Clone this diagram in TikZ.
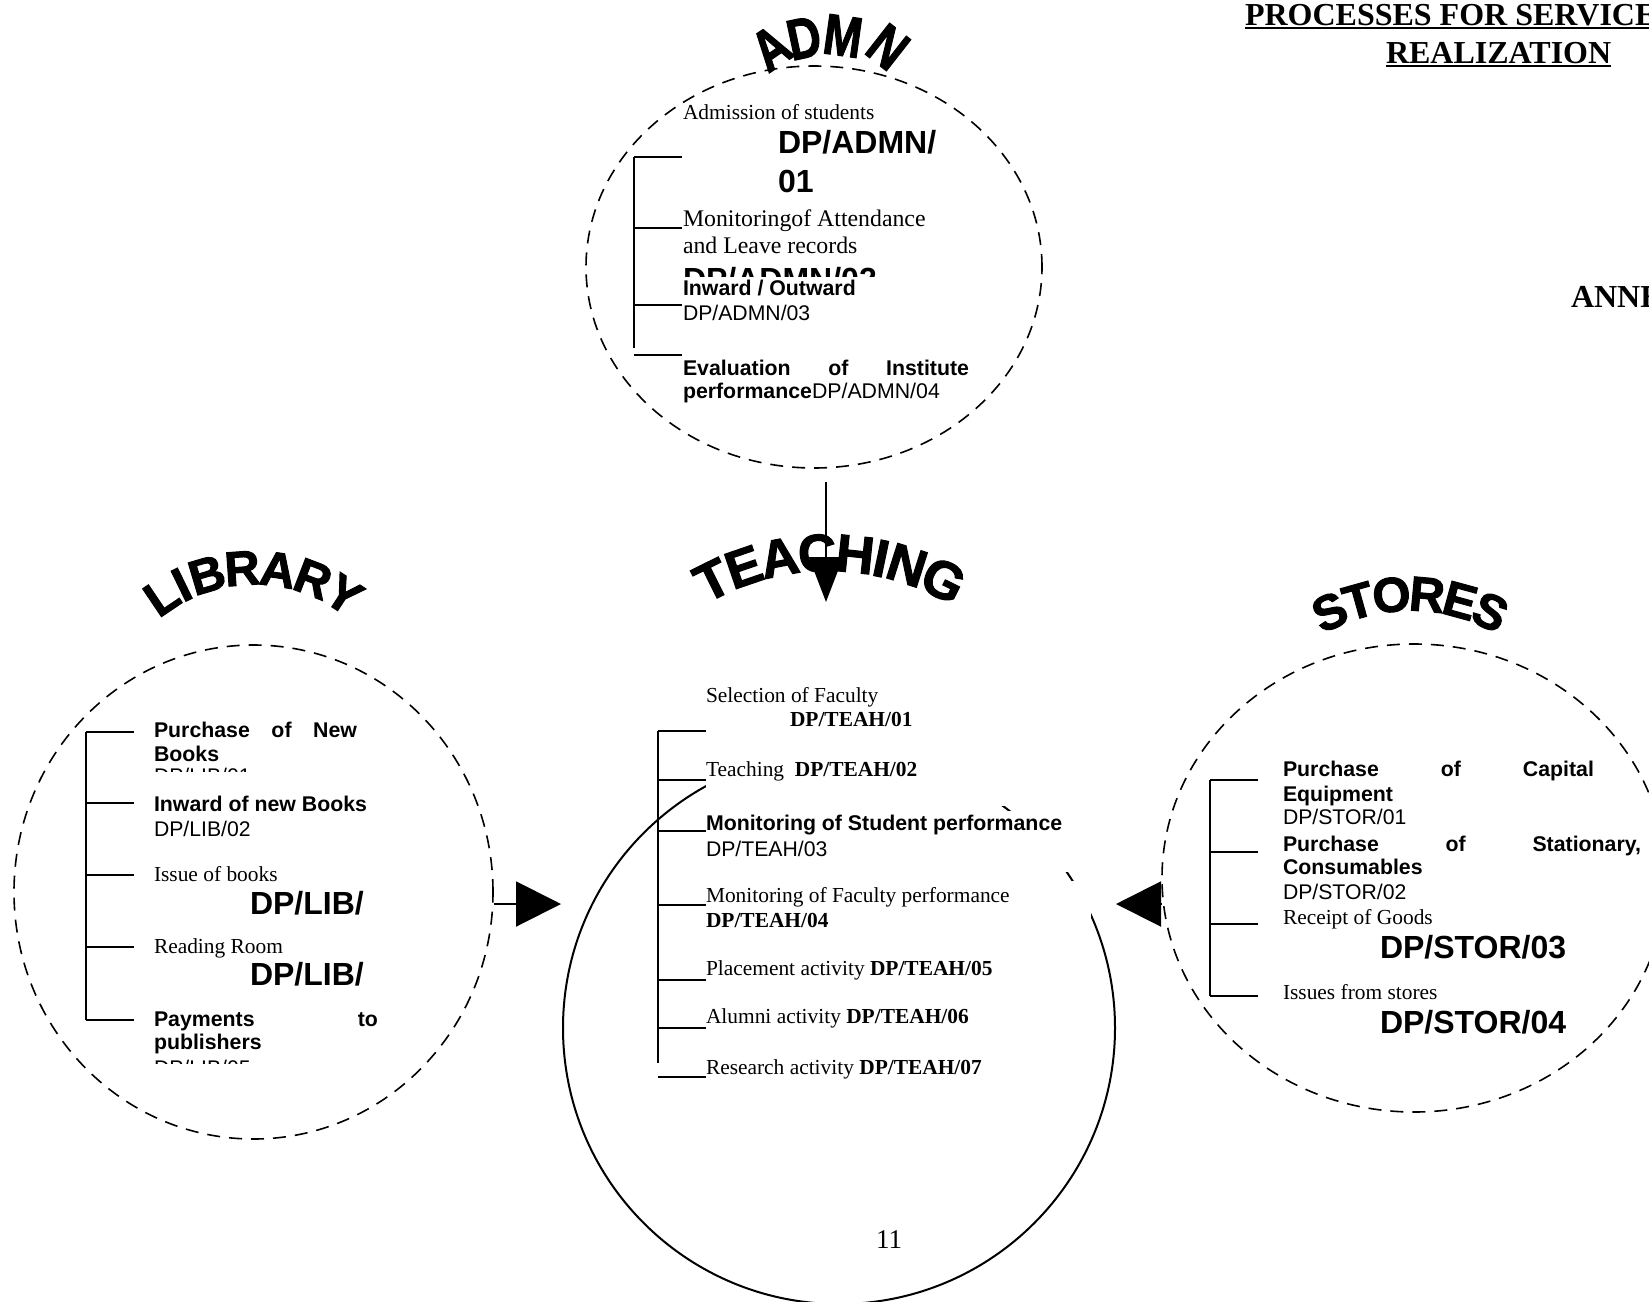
\documentclass[tikz,border=0pt]{standalone}
\usepackage{fontspec}
\setmainfont{Liberation Serif}
\setsansfont{Liberation Sans}
\newfontfamily\wafont[BoldFeatures={FakeBold=2}]{Liberation Sans}
\usepackage{graphicx}
\usetikzlibrary{shapes.geometric,arrows.meta}
\tikzset{
  txt/.style={anchor=base west, inner sep=0pt, outer sep=0pt},
  tr/.style={txt, font=\fontsize{21.4}{24}\selectfont\rmfamily},
  trl/.style={txt, font=\fontsize{23.8}{26}\selectfont\rmfamily},
  trb/.style={txt, font=\fontsize{21.4}{24}\selectfont\rmfamily\bfseries},
  sr/.style={txt, font=\fontsize{21.2}{24}\selectfont\sffamily},
  sb/.style={txt, font=\fontsize{21.3}{24}\selectfont\sffamily\bfseries},
  sbig/.style={txt, font=\fontsize{32}{36}\selectfont\sffamily\bfseries},
  ttl/.style={txt, font=\fontsize{32}{36}\selectfont\rmfamily\bfseries},
  wa/.style={inner sep=0pt, outer sep=0pt, font=\fontsize{53}{53}\selectfont\wafont\bfseries},
  wb/.style={inner sep=0pt, outer sep=0pt, font=\fontsize{49}{49}\selectfont\wafont\bfseries},
  wc/.style={inner sep=0pt, outer sep=0pt, font=\fontsize{46}{46}\selectfont\wafont\bfseries},
  ring/.style={draw, ellipse, inner sep=0pt, line width=1.6pt, dash pattern=on 13pt off 9pt},
  br/.style={line width=2pt},
  conn/.style={line width=2pt},
}
\begin{document}
\begin{tikzpicture}[x=1pt,y=-1pt]
\useasboundingbox (0,0) rectangle (1649,1301);
\clip (0,0) rectangle (1649,1301);
\fill[white] (0,0) rectangle (1649,1301);

% ---------- title ----------
\node[ttl] (t1) at (1245,25) {PROCESSES FOR SERVICE};
\node[ttl] (t2) at (1386,63) {REALIZATION};
\node[ttl] (t3) at (1571,307) {ANNEXURE};
\draw[line width=2pt] ([yshift=-3pt]t1.base west) -- ([yshift=-3pt]t1.base east);
\draw[line width=2pt] ([yshift=-3pt]t2.base west) -- ([yshift=-3pt]t2.base east);

% ---------- rings ----------
\node[ring, minimum width=456pt, minimum height=402pt] (admn) at (814,267) {};
\node[ring, minimum width=479pt, minimum height=494pt] (lib) at (253.5,892) {};
\node[ring, minimum width=504pt, minimum height=468pt] (stores) at (1414,878) {};
\node[draw, circle, line width=2pt, minimum size=552pt, inner sep=0pt] (teach) at (839,1028) {};

% text boxes of TEACHING hide parts of its circle
\fill[white] (706,640) rectangle (1091,806);
\fill[white] (706,811) rectangle (1091,872);
\fill[white] (706,881) rectangle (1091,1110);

% ---------- ADMN ----------
\draw[br] (634,157) -- (634,348);
\foreach \y in {157,228,305,355} \draw[br] (634,\y) -- (682,\y);
\node[tr] (a1) at (683,119) {Admission of students};
\node[sbig] (a2) at (778,153) {DP/ADMN/};
\node[sbig] (a3) at (778,192) {01};
\node[trl] (a4) at (683,226) {Monitoringof Attendance};
\node[trl] (a5) at (683,253) {and Leave records};
\begin{scope}
  \clip (683,262) rectangle (900,276);
  \node[sbig] (a6) at (683,290) {DP/ADMN/02};
\end{scope}
\node[sb] (a7) at (683,295) {Inward / Outward};
\node[sr] (a8) at (683,320) {DP/ADMN/03};
\node[sb] (a9) at (683,375) {\hbox to 286pt{Evaluation\hfill of\hfill Institute}};
\node[sb] (a10) at (683,398) {performance\mdseries DP/ADMN/04};

% ---------- TEACHING ----------
\draw[br] (658,731) -- (658,1063);
\foreach \y in {731,780,831,905,980,1028,1077} \draw[br] (658,\y) -- (706,\y);
\node[tr] (b1) at (706,702) {Selection of Faculty};
\node[trb] (b2) at (790,726) {DP/TEAH/01};
\node[tr] (b3) at (706,776) {Teaching\ \ \textbf{DP/TEAH/02}};
\node[sb] (b4) at (706,830) {Monitoring of Student performance};
\node[sr] (b5) at (706,856) {DP/TEAH/03};
\node[tr] (b6) at (706,902) {Monitoring of Faculty performance};
\node[trb] (b7) at (706,927) {DP/TEAH/04};
\node[tr] (b8) at (706,975) {Placement activity \textbf{DP/TEAH/05}};
\node[tr] (b9) at (706,1023) {Alumni activity \textbf{DP/TEAH/06}};
\node[tr] (b10) at (706,1074) {Research activity \textbf{DP/TEAH/07}};
\node[txt, font=\fontsize{27}{30}\selectfont\rmfamily] (pg) at (876,1248) {11};

% ---------- LIBRARY ----------
\draw[br] (86,732) -- (86,1020);
\foreach \y in {732,803,875,947,1020} \draw[br] (86,\y) -- (134,\y);
\node[sb] (c1) at (154,737) {\hbox to 203pt{Purchase\hfill of\hfill New}};
\node[sb] (c2) at (154,761) {Books};
\begin{scope}
  \clip (150,767) rectangle (300,771);
  \node[sr] (c3) at (154,783) {DP/LIB/01};
\end{scope}
\node[sb] (c4) at (154,811) {Inward of new Books};
\node[sr] (c5) at (154,836) {DP/LIB/02};
\node[tr] (c6) at (154,881) {Issue of books};
\node[sbig] (c7) at (250,914) {DP/LIB/};
\node[tr] (c8) at (154,953) {Reading Room};
\node[sbig] (c9) at (250,985) {DP/LIB/};
\node[sb] (c10) at (154,1026) {\hbox to 224pt{Payments\hfill to}};
\node[sb] (c11) at (154,1049) {publishers};
\begin{scope}
  \clip (150,1059) rectangle (300,1063);
  \node[sr] (c12) at (154,1075) {DP/LIB/05};
\end{scope}

% ---------- STORES ----------
\draw[br] (1210,780) -- (1210,996);
\foreach \y in {780,852,924,996} \draw[br] (1210,\y) -- (1258,\y);
\node[sb] (d1) at (1283,776) {\hbox to 311pt{Purchase\hfill of\hfill Capital}};
\node[sb] (d2) at (1283,801) {Equipment};
\node[sr] (d3) at (1283,824) {DP/STOR/01};
\node[sb] (d4) at (1283,851) {\hbox to 358pt{Purchase\hfill of\hfill Stationary,}};
\node[sb] (d5) at (1283,874) {Consumables};
\node[sr] (d6) at (1283,899) {DP/STOR/02};
\node[tr] (d7) at (1283,924) {Receipt of Goods};
\node[sbig] (d8) at (1380,958) {DP/STOR/03};
\node[tr] (d9) at (1283,999) {Issues from stores};
\node[sbig] (d10) at (1380,1033) {DP/STOR/04};

% ---------- word art titles ----------
\node[wc, rotate=34] (wA1) at (771,48) {\scalebox{1}[1.25]{A}};
\node[wc, rotate=12] (wA2) at (804,38) {\scalebox{1}[1.25]{D}};
\node[wc, rotate=-8] (wA3) at (843,36) {\scalebox{1}[1.25]{M}};
\node[wc, rotate=-38] (wA4) at (888,47) {\scalebox{1}[1.25]{N}};
\foreach \l/\a [count=\i] in {T/-26.4,E/-18.9,A/-10.8,C/-2.4,H/6.0,I/11.8,N/17.7,G/26.4}
  \node[wa, rotate=-\a] (wT\i) at ({828+260*sin(\a)},{813-260*cos(\a)}) {\l};
\foreach \l/\a [count=\i] in {L/-34,I/-26,B/-16.6,R/-4.1,A/8.4,R/21.0,Y/33}
  \node[wb, rotate=-\a] (wL\i) at ({254+165*sin(\a)},{733-165*cos(\a)}) {\l};
\foreach \l/\a [count=\i] in {S/-25,T/-15.7,O/-5.6,R/5.2,E/15.3,S/25}
  \node[wb, rotate=-\a] (wS\i) at ({1410+190*sin(\a)},{784-190*cos(\a)}) {\l};

% ---------- connectors ----------
\coordinate (admnOut) at (826,482);
\coordinate (teachTop) at (826,602);
\coordinate (libTip) at (561,904);
\coordinate (storTip) at (1116,904);
\draw[conn, -{Triangle[length=45pt,width=34pt]}] (admnOut) -- (teachTop);
\draw[conn, -{Triangle[length=45pt,width=45pt]}] (lib.east |- libTip) -- (libTip);
\draw[conn, -{Triangle[length=45pt,width=45pt]}] (stores.west |- storTip) -- (storTip);
\end{tikzpicture}
\end{document}
